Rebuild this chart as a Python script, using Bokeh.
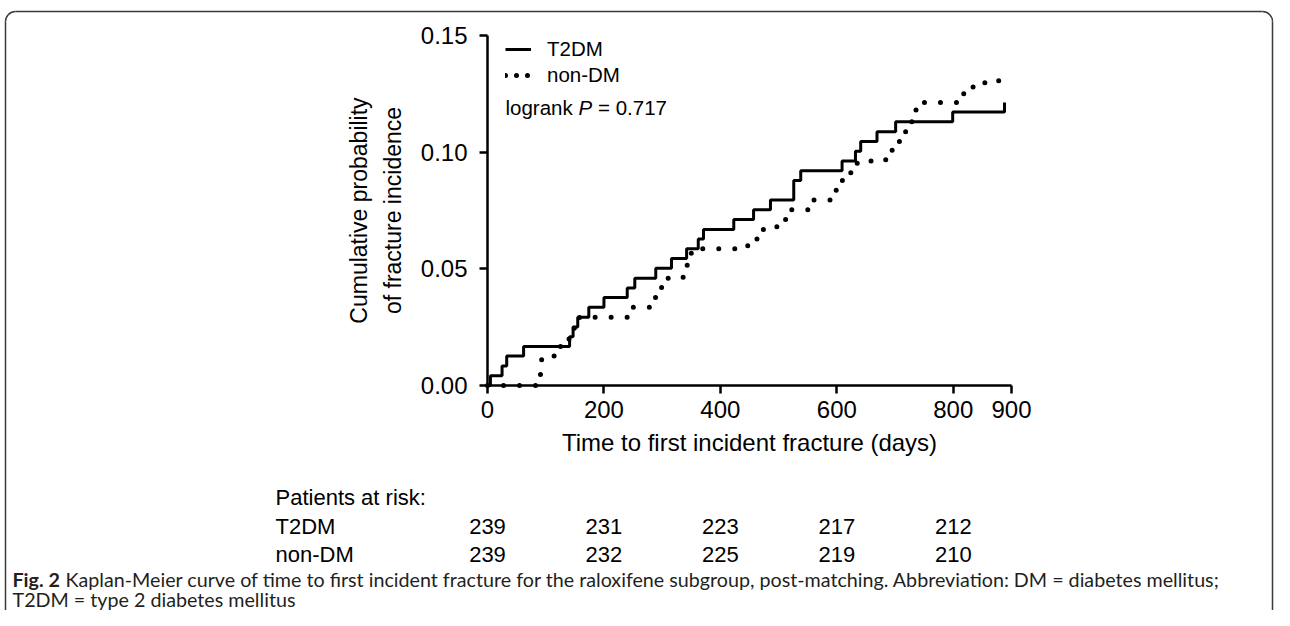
from bokeh.plotting import figure
from bokeh.models import (LinearAxis, FixedTicker, PrintfTickFormatter, Range1d,
                          Legend, LegendItem)
from bokeh.core.properties import value
from bokeh.embed import file_html
from bokeh.resources import INLINE

# ---------------- data ----------------
t2dm_days = [0, 5, 25, 33, 62, 141, 147, 155, 174, 200, 240, 253, 289, 316, 342,
             362, 371, 423, 457, 486, 526, 538, 609, 632, 641, 669, 701, 799, 888]
t2dm_cum = [0.0, 0.0042, 0.0084, 0.0126, 0.0167, 0.0209, 0.0251, 0.0293, 0.0335,
            0.0377, 0.0418, 0.0460, 0.0502, 0.0544, 0.0586, 0.0628, 0.0669, 0.0711,
            0.0753, 0.0795, 0.0879, 0.0920, 0.0962, 0.1004, 0.1046, 0.1088, 0.1130,
            0.1172, 0.1213]

nondm_days = [0, 89, 91, 93, 118, 140, 149, 158, 242, 284, 291, 299, 336, 343, 350,
              447, 472, 497, 518, 553, 596, 609, 624, 635, 684, 695, 718, 725, 731,
              736, 818, 834, 878]
nondm_cum = [0.0, 0.0042, 0.0084, 0.0126, 0.0167, 0.0209, 0.0251, 0.0293, 0.0335,
             0.0377, 0.0418, 0.0460, 0.0502, 0.0544, 0.0586, 0.0628, 0.0669, 0.0711,
             0.0753, 0.0795, 0.0837, 0.0879, 0.0920, 0.0962, 0.1004, 0.1046, 0.1088,
             0.1130, 0.1172, 0.1213, 0.1255, 0.1297, 0.1339]

x_ticks = [0, 200, 400, 600, 800, 900]
y_ticks = [0.0, 0.05, 0.10, 0.15]

risk_days = [0, 200, 400, 600, 800]
t2dm_risk = [239, 231, 223, 217, 212]
nondm_risk = [239, 232, 225, 219, 210]

series_names = ["T2DM", "non-DM"]
logrank_p = "0.717"
x_title = "Time to first incident fracture (days)"
y_title = "Cumulative probability\nof fracture incidence"
caption_bold = "Fig. 2"
caption_line1 = ("Kaplan-Meier curve of time to first incident fracture for the raloxifene "
                 "subgroup, post-matching. Abbreviation: DM = diabetes mellitus;")
caption_line2 = "T2DM = type 2 diabetes mellitus"

# ---------------- layout (canvas pixels) ----------------
W, H = 1274, 610
X0, X1 = 487, 1011      # canvas x of day 0 and day 900
Y0, Y1 = 385, 35        # canvas y of prob 0 and prob 0.15
XMAX, YMAX = 900, 0.15
kx = (X1 - X0) / XMAX
ky = (Y0 - Y1) / YMAX


def sx(px):  # canvas x -> data x
    return (px - X0) / kx


def sy(py):  # canvas y -> data y
    return (Y0 - py) / ky


FONT = "Liberation Sans"

p = figure(width=W, height=H, output_backend="svg", toolbar_location=None,
           x_range=Range1d(-X0 / kx, (W - X0) / kx),
           y_range=Range1d(-(H - Y0) / ky, Y0 / ky),
           x_axis_location=None, y_axis_location=None,
           min_border=0, min_border_left=0, min_border_right=0,
           min_border_top=0, min_border_bottom=0)
p.outline_line_color = None
p.grid.visible = False
p.background_fill_color = "white"
p.border_fill_color = "white"

# ---------------- axes ----------------
xaxis = LinearAxis(fixed_location=0, bounds=(0, XMAX),
                   ticker=FixedTicker(ticks=x_ticks), axis_label=x_title)
yaxis = LinearAxis(fixed_location=0, bounds=(0, YMAX),
                   ticker=FixedTicker(ticks=y_ticks),
                   formatter=PrintfTickFormatter(format="%.2f"), axis_label=y_title)
p.add_layout(xaxis, "below")
p.add_layout(yaxis, "left")
for ax in (xaxis, yaxis):
    ax.axis_line_width = 2.5
    ax.axis_line_color = "black"
    ax.major_tick_line_width = 2.5
    ax.major_tick_line_color = "black"
    ax.major_tick_out = 8
    ax.major_tick_in = 0
    ax.minor_tick_line_color = None
    ax.major_label_text_font = FONT
    ax.major_label_text_font_size = "24px"
    ax.major_label_text_color = "black"
    ax.axis_label_text_font = FONT
    ax.axis_label_text_font_style = "normal"
    ax.axis_label_text_color = "black"
xaxis.major_label_standoff = 7
xaxis.axis_label_standoff = 8
xaxis.axis_label_text_font_size = "24px"
yaxis.major_label_standoff = 12
yaxis.axis_label_standoff = 12
yaxis.axis_label_text_font_size = "23px"
yaxis.axis_label_text_line_height = 1.3

# ---------------- curves ----------------
r_t2dm = p.step(t2dm_days, t2dm_cum, mode="after", line_color="black", line_width=3)
r_non = p.step(nondm_days, nondm_cum, mode="after", line_color="black", line_width=5,
               line_dash="0 16", line_cap="round")

# legend samples (off-screen stand-ins carrying the legend line styles)
lg_solid = p.line([-5000, -4990], [0, 0], line_color="black", line_width=3)
lg_dot = p.line([-5000, -4990], [0, 0], line_color="black", line_width=5,
                line_dash="0 11", line_cap="round")
legend = Legend(items=[LegendItem(label=series_names[0], renderers=[lg_solid]),
                       LegendItem(label=series_names[1], renderers=[lg_dot])],
                location=(505, H - 87), padding=0, margin=0, spacing=2,
                glyph_width=26, glyph_height=24, label_height=24, label_standoff=16,
                label_text_font=FONT, label_text_font_size="20.5px",
                label_text_color="black",
                border_line_color=None, background_fill_color=None)
p.add_layout(legend, "center")

# logrank text
lx = sx(505)
ly = sy(107)
p.text(x=[lx], y=[ly], text=["logrank"], text_font=value(FONT),
       text_font_size="20.5px", text_baseline="middle", text_align="left")
p.text(x=[lx], y=[ly], x_offset=73, text=["P"], text_font=value(FONT),
       text_font_size="20.5px", text_font_style="italic", text_baseline="middle",
       text_align="left")
p.text(x=[lx], y=[ly], x_offset=92.5, text=["= " + logrank_p], text_font=value(FONT),
       text_font_size="20.5px", text_baseline="middle", text_align="left")

# ---------------- patients at risk ----------------
TFS = "22px"
row_y = [sy(497), sy(526), sy(554)]
p.text(x=[sx(275)] * 3, y=row_y,
       text=["Patients at risk:", series_names[0], series_names[1]],
       text_font=value(FONT), text_font_size=TFS, text_baseline="middle",
       text_align="left")
p.text(x=risk_days, y=[row_y[1]] * len(risk_days), text=[str(v) for v in t2dm_risk],
       text_font=value(FONT), text_font_size=TFS, text_baseline="middle",
       text_align="center")
p.text(x=risk_days, y=[row_y[2]] * len(risk_days), text=[str(v) for v in nondm_risk],
       text_font=value(FONT), text_font_size=TFS, text_baseline="middle",
       text_align="center")

# ---------------- caption ----------------
CF = "Lato"
CFS = "19.7px"
p.text(x=[sx(12)], y=[sy(579)], text=[caption_bold], text_font=value(CF),
       text_font_size=CFS, text_font_style="bold", text_baseline="middle",
       text_align="left", text_color="#231f20")
p.text(x=[sx(12)], y=[sy(579)], x_offset=53, text=[caption_line1], text_font=value(CF),
       text_font_size=CFS, text_baseline="middle", text_align="left",
       text_color="#231f20")
p.text(x=[sx(12)], y=[sy(599)], text=[caption_line2], text_font=value(CF),
       text_font_size=CFS, text_baseline="middle", text_align="left",
       text_color="#231f20")

# ---------------- rounded frame ----------------
R = 10
BC = "#3a3a3a"
left_px, right_px, top_px = 5, 1272, 11
p.line([sx(left_px + R), sx(right_px - R)], [sy(top_px)] * 2, line_color=BC,
       line_width=1.5)
p.multi_line([[sx(left_px)] * 2, [sx(right_px)] * 2],
             [[sy(top_px + R), sy(700)], [sy(top_px + R), sy(700)]],
             line_color=BC, line_width=1.5)
p.arc(x=[sx(left_px + R), sx(right_px - R)], y=[sy(top_px + R)] * 2, radius=R,
      radius_units="screen", start_angle=[1.5708, 0.0], end_angle=[3.1416, 1.5708],
      line_color=BC, line_width=1.5)

open("out.html", "w").write(file_html(p, INLINE))
